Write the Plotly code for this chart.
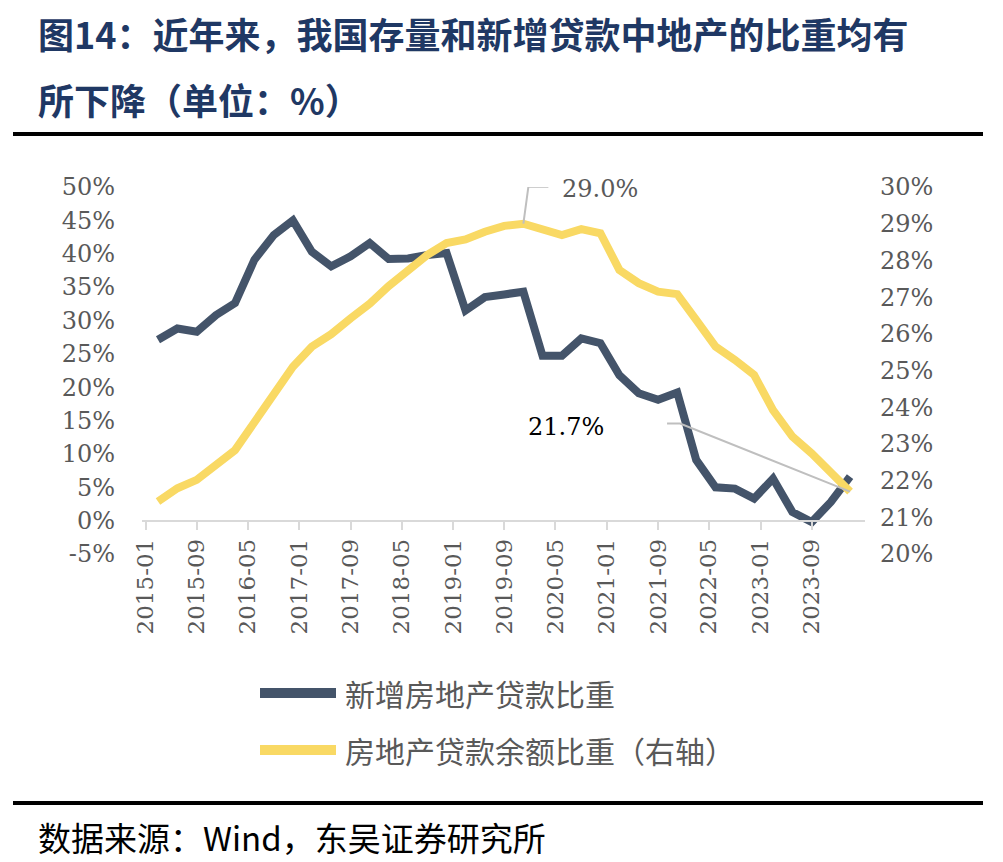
import plotly.graph_objects as go

# ---------------- data ----------------
dates = ["2015-03", "2015-06", "2015-09", "2015-12",
         "2016-03", "2016-06", "2016-09", "2016-12",
         "2017-03", "2017-06", "2017-09", "2017-12",
         "2018-03", "2018-06", "2018-09", "2018-12",
         "2019-03", "2019-06", "2019-09", "2019-12",
         "2020-03", "2020-06", "2020-09", "2020-12",
         "2021-03", "2021-06", "2021-09", "2021-12",
         "2022-03", "2022-06", "2022-09", "2022-12",
         "2023-03", "2023-06", "2023-09", "2023-12",
         "2024-03"]

new_loan_share = [27.1, 28.8, 28.3, 30.8, 32.6, 39.1, 42.8, 45.0,
                  40.3, 38.1, 39.6, 41.6, 39.2, 39.3, 39.8, 40.1,
                  31.5, 33.5, 33.9, 34.3, 24.7, 24.7, 27.3, 26.6,
                  21.8, 19.1, 18.1, 19.2, 9.1, 5.0, 4.8, 3.3,
                  6.3, 1.3, -0.2, 2.8, 6.6]

balance_share = [21.43, 21.79, 22.02, 22.43, 22.83, 23.59, 24.35, 25.10,
                 25.65, 25.99, 26.42, 26.82, 27.30, 27.74, 28.15, 28.47,
                 28.57, 28.78, 28.94, 29.00, 28.83, 28.69, 28.85, 28.74,
                 27.74, 27.38, 27.15, 27.08, 26.38, 25.65, 25.29, 24.88,
                 23.92, 23.20, 22.74, 22.20, 21.70]

x_tick_labels = ["2015-01", "2015-09", "2016-05", "2017-01", "2017-09",
                 "2018-05", "2019-01", "2019-09", "2020-05", "2021-01",
                 "2021-09", "2022-05", "2023-01", "2023-09"]

series_names = ["新增房地产贷款比重", "房地产贷款余额比重（右轴）"]
title_lines = ["图14：近年来，我国存量和新增贷款中地产的比重均有", "所下降（单位：%）"]
source_text = "数据来源：Wind，东吴证券研究所"

left_ticks = list(range(-5, 55, 5))
right_ticks = list(range(20, 31, 1))

# ---------------- style ----------------
OFF = 8  # page body margin
W, H = 1003 - OFF, 862 - OFF
L, T = 142 - OFF, 187 - OFF
R = W - (865 - OFF)
B = H - (554 - OFF)
PW, PH = W - L - R, H - T - B
DARK = "#44546A"
YELLOW = "#F9D964"
GRAY = "#595959"
TITLE_C = "#1F3864"
SERIF = "DejaVu Serif"
CJK = "Noto Sans CJK SC"


def px(x):
    return (x - OFF - L) / PW


def py(y):
    return (H - B - (y - OFF)) / PH


fig = go.Figure()
fig.add_trace(go.Scatter(x=dates, y=new_loan_share, mode="lines", name=series_names[0],
                         line=dict(color=DARK, width=8), yaxis="y", showlegend=False))
fig.add_trace(go.Scatter(x=dates, y=balance_share, mode="lines", name=series_names[1],
                         line=dict(color=YELLOW, width=8), yaxis="y2", showlegend=False))

ymin, ymax = -5, 50
fig.update_layout(
    width=W, height=H, autosize=False,
    margin=dict(l=L, r=R, t=T, b=B, pad=0),
    paper_bgcolor="white", plot_bgcolor="white",
    xaxis=dict(type="date", range=["2014-12-15", "2024-05-11"],
               tickvals=x_tick_labels, ticktext=x_tick_labels,
               tickangle=-90, anchor="free", position=(0 - ymin) / (ymax - ymin),
               showline=True, linecolor="#D9D9D9", linewidth=2,
               ticks="outside", ticklen=8, tickcolor="#D9D9D9", tickwidth=2,
               showgrid=False, zeroline=False,
               tickfont=dict(family=SERIF, size=23, color=GRAY)),
    yaxis=dict(range=[ymin, ymax], tickvals=left_ticks,
               ticktext=[f"{v}%" for v in left_ticks],
               showgrid=False, zeroline=False, showline=False,
               ticklabelstandoff=26,
               tickfont=dict(family=SERIF, size=24, color=GRAY)),
    yaxis2=dict(range=[20, 30], tickvals=right_ticks,
                ticktext=[f"{v}%" for v in right_ticks],
                overlaying="y", side="right",
                showgrid=False, zeroline=False, showline=False,
                ticklabelstandoff=14,
                tickfont=dict(family=SERIF, size=24, color=GRAY)),
)

shapes = []
annotations = []

# title
for txt, yy in zip(title_lines, (33, 99)):
    annotations.append(dict(text="<b>" + txt + "</b>", xref="paper", yref="paper",
                            x=px(36), y=py(yy), xanchor="left", yanchor="middle", showarrow=False,
                            font=dict(family=CJK, size=36, color=TITLE_C)))
# separators
for yy in (134, 803):
    shapes.append(dict(type="line", xref="paper", yref="paper", x0=px(13), x1=px(983),
                       y0=py(yy), y1=py(yy), line=dict(color="black", width=4)))
# source
annotations.append(dict(text=source_text, xref="paper", yref="paper",
                        x=px(36), y=py(837), xanchor="left", yanchor="middle", showarrow=False,
                        font=dict(family=CJK, size=33, color="black")))

# legend
for i, (name, col) in enumerate(zip(series_names, [DARK, YELLOW])):
    yy = 693 + i * 57
    shapes.append(dict(type="line", xref="paper", yref="paper", x0=px(260), x1=px(336),
                       y0=py(yy), y1=py(yy), line=dict(color=col, width=10)))
    annotations.append(dict(text=name, xref="paper", yref="paper", x=px(343), y=py(yy),
                            xanchor="left", yanchor="middle", showarrow=False,
                            font=dict(family=CJK, size=30, color=GRAY)))

# peak label for balance share
pk = max(range(len(balance_share)), key=lambda k: balance_share[k])
shapes.append(dict(type="path", xref="x", yref="y2", xsizemode="pixel", ysizemode="pixel",
                   xanchor=dates[pk], yanchor=balance_share[pk],
                   path="M0,0 L5,37 L25,37", line=dict(color="#BFBFBF", width=2)))
annotations.append(dict(text=f"{balance_share[pk]:.1f}%", xref="x", yref="y2",
                        x=dates[pk], y=balance_share[pk], xshift=37, yshift=35,
                        xanchor="left", yanchor="middle", showarrow=False,
                        font=dict(family=SERIF, size=24, color=GRAY)))
# last value label
last = len(balance_share) - 1
shapes.append(dict(type="path", xref="x", yref="y2", xsizemode="pixel", ysizemode="pixel",
                   xanchor=dates[last], yanchor=balance_share[last],
                   path="M0,0 L-170,68 L-183,68", line=dict(color="#BFBFBF", width=2)))
annotations.append(dict(text=f"{balance_share[last]:.1f}%", xref="x", yref="y2",
                        x=dates[last], y=balance_share[last], xshift=-284, yshift=65,
                        xanchor="center", yanchor="middle", showarrow=False,
                        font=dict(family=SERIF, size=24, color="black")))

fig.update_layout(shapes=shapes, annotations=annotations)
fig.write_html("out.html")
